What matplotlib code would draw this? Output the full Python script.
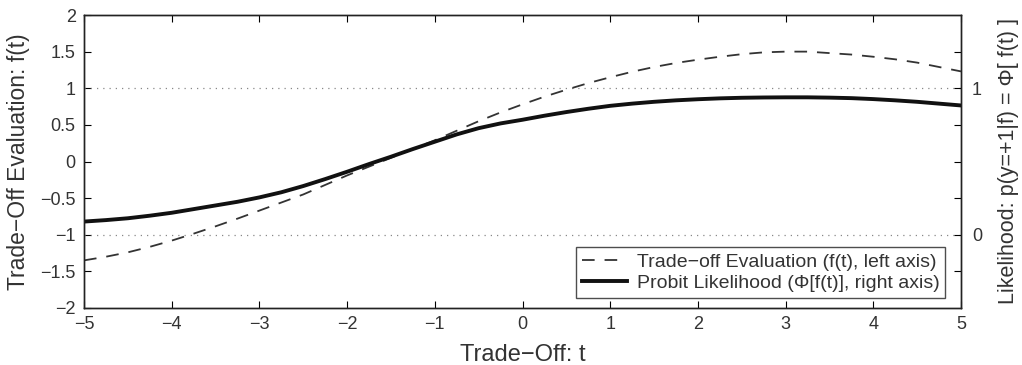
import numpy as np
import matplotlib
matplotlib.use("Agg")
import matplotlib.pyplot as plt

plt.rcParams['font.family'] = ['Liberation Sans', 'DejaVu Sans']

# trade-off values t and the curves
t = [-5.0, -4.75, -4.5, -4.25, -4.0, -3.75, -3.5, -3.25, -3.0, -2.75, -2.5,
     -2.25, -2.0, -1.75, -1.5, -1.25, -1.0, -0.75, -0.5, -0.25, 0.0,
     0.25, 0.5, 0.75, 1.0, 1.25, 1.5, 1.75, 2.0, 2.25, 2.5,
     2.75, 3.0, 3.25, 3.5, 3.75, 4.0, 4.25, 4.5, 4.75, 5.0]
# trade-off evaluation f(t), left axis
f_t = [-1.35, -1.30, -1.24, -1.165, -1.08, -0.985, -0.885, -0.78, -0.67, -0.56, -0.45,
       -0.32, -0.19, -0.07, 0.05, 0.17, 0.29, 0.42, 0.55, 0.67, 0.78,
       0.885, 0.98, 1.07, 1.15, 1.225, 1.29, 1.345, 1.39, 1.43, 1.465,
       1.49, 1.50, 1.50, 1.48, 1.46, 1.43, 1.395, 1.35, 1.29, 1.23]
# probit likelihood Phi[f(t)], right axis
phi_f = [0.09, 0.10, 0.1125, 0.13, 0.15, 0.175, 0.20, 0.225, 0.255, 0.29, 0.3325,
         0.38, 0.43, 0.4825, 0.5325, 0.585, 0.635, 0.685, 0.7275, 0.76, 0.785,
         0.8125, 0.8375, 0.86, 0.88, 0.895, 0.9075, 0.9175, 0.925, 0.931, 0.935,
         0.937, 0.938, 0.938, 0.936, 0.9325, 0.926, 0.9175, 0.9075, 0.895, 0.8825]

txt = '#333333'

fig = plt.figure(figsize=(10.22, 3.65), dpi=100)
ax = fig.add_axes([84/1022, 1-308/365, (961-84)/1022, (308-15)/365])
ax2 = ax.twinx()

ax.axhline(1, color='#888888', ls=(0, (1, 4)), lw=0.9)
ax.axhline(-1, color='#888888', ls=(0, (1, 4)), lw=0.9)

l1, = ax.plot(t, f_t, color='#333333', ls=(0, (7, 5.5)), lw=1.3,
              label='Trade\u2212off Evaluation (f(t), left axis)')
l2, = ax2.plot(t, phi_f, color='#111111', lw=2.8,
               label='Probit Likelihood (\u03a6[f(t)], right axis)')

ax.set_xlim(-5, 5)
ax.set_ylim(-2, 2)
ax2.set_ylim(-0.5, 1.5)
ax.set_xticks(np.arange(-5, 6, 1))
ax.set_yticks(np.arange(-2, 2.01, 0.5))
ax.set_yticklabels(['\u22122', '\u22121.5', '\u22121', '\u22120.5', '0', '0.5', '1', '1.5', '2'])
ax.set_xticklabels(['\u22125', '\u22124', '\u22123', '\u22122', '\u22121', '0', '1', '2', '3', '4', '5'])
ax2.set_yticks([0, 1])

ax.tick_params(direction='in', length=5, top=True, right=False, labelsize=13,
               labelcolor=txt, width=0.8, pad=6)
ax2.tick_params(direction='in', length=5, labelsize=13, labelcolor=txt, width=0.8, pad=8)
# inward ticks on the right spine matching the left ones
ax2.set_yticks([-0.25, 0.25, 0.5, 0.75, 1.25], minor=True)
ax2.tick_params(which='minor', direction='in', length=5, width=0.8)

for a in (ax, ax2):
    for s in a.spines.values():
        s.set_color('#222222')
        s.set_linewidth(1.0)

ax.set_xlabel('Trade\u2212Off: t', fontsize=17, color=txt, labelpad=8)
ax.set_ylabel('Trade\u2212Off Evaluation: f(t)', fontsize=16.5, color=txt, labelpad=7)
ax2.set_ylabel('Likelihood: p(y=+1|f) = \u03a6[ f(t) ]', fontsize=15.5, color=txt, labelpad=11)

leg = ax2.legend(handles=[l1, l2], loc='lower right', bbox_to_anchor=(0.982, 0.034),
                 borderaxespad=0, fontsize=14, frameon=True, fancybox=False,
                 handlelength=2.3, borderpad=0.3, labelspacing=0.2, handletextpad=0.5)
leg.get_frame().set_edgecolor('#222222')
leg.get_frame().set_linewidth(1.0)
for tx in leg.get_texts():
    tx.set_color(txt)

fig.savefig('out.png', dpi=100)
